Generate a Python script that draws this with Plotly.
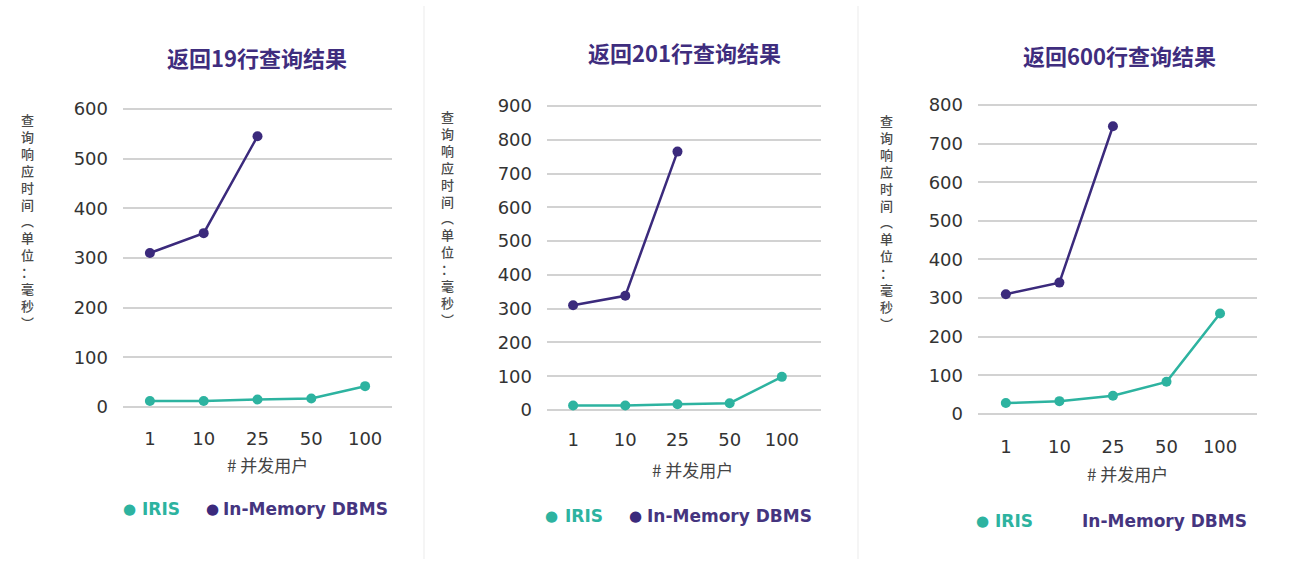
import plotly.graph_objects as go

W, H = 1290, 564

# ---------------- data ----------------
categories = ["1", "10", "25", "50", "100"]
titles = ["返回19行查询结果", "返回201行查询结果", "返回600行查询结果"]
iris_19 = [12, 12, 15, 17, 42]
imdb_19 = [310, 350, 545]
iris_201 = [13, 13, 17, 20, 98]
imdb_201 = [310, 338, 765]
iris_600 = [28, 33, 47, 83, 260]
imdb_600 = [310, 340, 745]
y_ticks_19 = [0, 100, 200, 300, 400, 500, 600]
y_ticks_201 = [0, 100, 200, 300, 400, 500, 600, 700, 800, 900]
y_ticks_600 = [0, 100, 200, 300, 400, 500, 600, 700, 800]
series_names = ["IRIS", "In-Memory DBMS"]
y_title = "查询响应时间︵单位：毫秒︶"
x_title = "# 并发用户"

TEAL = "#2db3a0"
PURPLE = "#3b2a7c"
PURPLE_TXT = "#45357f"
TITLE_C = "#3f2d7e"
GRID = "#d2d2d2"
TXT = "#333333"
NUM_FONT = "DejaVu Sans"
CJK_FONT = "Noto Sans CJK SC"


def px(x):
    return x / W


def py(y):
    return 1 - y / H


# layout per panel (pixel geometry)
panels = [
    dict(iris=iris_19, imdb=imdb_19, ticks=y_ticks_19, top_val=600,
         xl=123, xr=392, ytop=105, ybot=409, xrange=[-0.5, 4.5],
         title_x=257, title_y=52, ytitle_x=27, ytitle_y=219,
         xtitle_x=267, xtitle_y=468, xlab_pad=12,
         leg_y=513, leg=[(129, 140, True), (212, 221, True)]),
    dict(iris=iris_201, imdb=imdb_201, ticks=y_ticks_201, top_val=900,
         xl=547, xr=821, ytop=102, ybot=412, xrange=[-0.5, 4.75],
         title_x=684, title_y=47, ytitle_x=447, ytitle_y=216,
         xtitle_x=692, xtitle_y=473, xlab_pad=12,
         leg_y=520, leg=[(551, 563, True), (635, 645, True)]),
    dict(iris=iris_600, imdb=imdb_600, ticks=y_ticks_600, top_val=800,
         xl=978, xr=1257, ytop=101, ybot=416, xrange=[-0.52, 4.69],
         title_x=1119, title_y=50, ytitle_x=887, ytitle_y=220,
         xtitle_x=1127, xtitle_y=477, xlab_pad=14,
         leg_y=525, leg=[(982, 993, True), (None, 1080, False)]),
]

fig = go.Figure()
annotations = []
layout_axes = {}

for i, p in enumerate(panels, start=1):
    sfx = "" if i == 1 else str(i)
    xa, ya = "x" + sfx, "y" + sfx
    ppu = (p["ybot"] - p["ytop"]) / p["top_val"]
    pad = 15
    lo, hi = -pad, p["top_val"] + pad
    dom_bot = p["ybot"] + pad * ppu
    dom_top = p["ytop"] - pad * ppu

    fig.add_trace(go.Scatter(
        x=categories[:len(p["iris"])], y=p["iris"], xaxis=xa, yaxis=ya,
        mode="lines+markers", name=series_names[0], showlegend=False,
        line=dict(color=TEAL, width=2.5), marker=dict(color=TEAL, size=10),
        cliponaxis=False))
    fig.add_trace(go.Scatter(
        x=categories[:len(p["imdb"])], y=p["imdb"], xaxis=xa, yaxis=ya,
        mode="lines+markers", name=series_names[1], showlegend=False,
        line=dict(color=PURPLE, width=2.5), marker=dict(color=PURPLE, size=10),
        cliponaxis=False))

    layout_axes["xaxis" + sfx] = dict(
        domain=[px(p["xl"]), px(p["xr"])], anchor=ya,
        type="category", categoryorder="array", categoryarray=categories,
        range=p["xrange"], showgrid=False, zeroline=False, showline=False,
        ticks="", ticklabelstandoff=p["xlab_pad"],
        tickfont=dict(family=NUM_FONT, size=18, color=TXT))
    layout_axes["yaxis" + sfx] = dict(
        domain=[py(dom_bot), py(dom_top)], anchor=xa,
        range=[lo, hi], tickvals=p["ticks"], showgrid=True,
        gridcolor=GRID, gridwidth=2, zeroline=False, showline=False,
        ticks="", ticklabelstandoff=14,
        tickfont=dict(family=NUM_FONT, size=18, color=TXT))

    # panel title
    annotations.append(dict(
        text="<b>" + titles[i - 1] + "</b>", xref="paper", yref="paper",
        x=px(p["title_x"]), y=py(p["title_y"]), xanchor="center", yanchor="middle",
        showarrow=False, font=dict(family=CJK_FONT, size=22, color=TITLE_C)))
    # y title: vertically stacked characters in one text
    annotations.append(dict(
        text="<br>".join(list(y_title)), xref="paper", yref="paper",
        x=px(p["ytitle_x"]), y=py(p["ytitle_y"]), xanchor="center", yanchor="middle",
        showarrow=False, align="center", borderpad=0,
        font=dict(family=CJK_FONT, size=13, color="#4a4a4a", weight=500)))
    # x title
    annotations.append(dict(
        text=x_title, xref="paper", yref="paper",
        x=px(p["xtitle_x"]), y=py(p["xtitle_y"]), xanchor="center", yanchor="middle",
        showarrow=False, font=dict(family=CJK_FONT, size=17, color="#444444")))
    # legend
    for (dot_x, txt_x, show_dot), name, col, tcol in zip(
            p["leg"], series_names, [TEAL, PURPLE], [TEAL, PURPLE_TXT]):
        if show_dot:
            annotations.append(dict(
                text="●", xref="paper", yref="paper",
                x=px(dot_x), y=py(p["leg_y"]), xanchor="center", yanchor="middle",
                showarrow=False, font=dict(family="DejaVu Sans", size=15, color=col)))
        annotations.append(dict(
            text="<b>" + name + "</b>", xref="paper", yref="paper",
            x=px(txt_x), y=py(p["leg_y"]), xanchor="left", yanchor="middle",
            showarrow=False,
            font=dict(family="DejaVu Sans", size=17, color=tcol)))

shapes = [
    dict(type="line", xref="paper", yref="paper", x0=px(424), x1=px(424), y0=0, y1=1,
         line=dict(color="#ebebeb", width=1)),
    dict(type="line", xref="paper", yref="paper", x0=px(858), x1=px(858), y0=0, y1=1,
         line=dict(color="#ebebeb", width=1)),
]

fig.update_layout(
    width=W, height=H, margin=dict(l=0, r=0, t=0, b=0),
    paper_bgcolor="white", plot_bgcolor="white",
    annotations=annotations, shapes=shapes, showlegend=False,
    **layout_axes)

fig.write_html("out.html")
